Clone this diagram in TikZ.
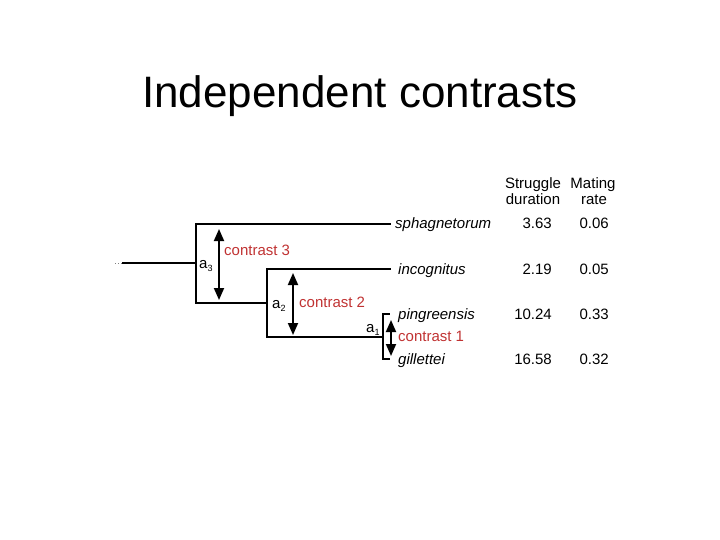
\documentclass[tikz,border=0pt]{standalone}
\usepackage{fontspec}
\setmainfont{Liberation Sans}
\usetikzlibrary{arrows.meta}
\definecolor{cred}{RGB}{192,50,50}
\newcommand{\mysub}[1]{\raisebox{-3pt}{\fontsize{9}{10}\selectfont #1}}
\begin{document}
\begin{tikzpicture}[x=1pt,y=-1pt,
  branch/.style={line width=2pt, line cap=rect},
  contrastarrow/.style={line width=1.8pt, {Triangle[width=10pt,length=12pt]}-{Triangle[width=10pt,length=12pt]}},
  species/.style={anchor=base west, inner sep=0pt, font=\fontsize{15}{18}\selectfont\itshape},
  val/.style={anchor=base east, inner sep=0pt, font=\fontsize{15}{18}\selectfont},
  hdr/.style={anchor=base, inner sep=0pt, font=\fontsize{15}{18}\selectfont},
  ctext/.style={anchor=base west, inner sep=0pt, text=cred, font=\fontsize{15}{18}\selectfont},
  alabel/.style={anchor=base west, inner sep=0pt, font=\fontsize{15}{18}\selectfont}]
\useasboundingbox (0,0) rectangle (720,540);
% title
\node[anchor=base, inner sep=0pt, font=\fontsize{44}{50}\selectfont] (title) at (360,108) {Independent contrasts};
% tree coordinates
\coordinate (rootend) at (115,263);
\coordinate (rootdash) at (123,263);
\coordinate (n3) at (196,263);
\coordinate (n3top) at (196,224);
\coordinate (n3bot) at (196,303);
\coordinate (n2mid) at (267,303);
\coordinate (n2top) at (267,269);
\coordinate (n2bot) at (267,337);
\coordinate (n1) at (383,337);
\coordinate (n1top) at (383,314);
\coordinate (n1bot) at (383,359);
\coordinate (tipS) at (390,224);
\coordinate (tipI) at (390,269);
\coordinate (tipP) at (389,314);
\coordinate (tipG) at (389,359);
% branches
\draw[line width=1pt, dotted, gray] (rootend) -- (rootdash);
\draw[branch] (rootdash) -- (n3);
\draw[branch] (tipS) -- (n3top) -- (n3bot) -- (n2mid);
\draw[branch] (tipI) -- (n2top) -- (n2bot) -- (n1);
\draw[branch] (tipP) -- (n1top) -- (n1bot) -- (tipG);
% contrast arrows
\coordinate (c3a) at (219,229);
\coordinate (c3b) at (219,300);
\coordinate (c2a) at (293,273);
\coordinate (c2b) at (293,335);
\coordinate (c1a) at (391,320);
\coordinate (c1b) at (391,356);
\draw[contrastarrow] (c3a) -- (c3b);
\draw[contrastarrow] (c2a) -- (c2b);
\draw[contrastarrow] (c1a) -- (c1b);
% node labels
\node[alabel] (a3) at (199,268) {a\mysub{3}};
\node[alabel] (a2) at (272,308) {a\mysub{2}};
\node[alabel] (a1) at (366,332) {a\mysub{1}};
\node[ctext] (ct3) at (224,255) {contrast 3};
\node[ctext] (ct2) at (299,307) {contrast 2};
\node[ctext] (ct1) at (398,341) {contrast 1};
% species
\node[species] (sS) at (395,229) {sphagnetorum};
\node[species] (sI) at (398,274) {incognitus};
\node[species] (sP) at (398,319) {pingreensis};
\node[species] (sG) at (398,364) {gillettei};
% header
\node[hdr] (h1a) at (533,189) {Struggle};
\node[hdr] (h1b) at (533,205) {duration};
\node[hdr] (h2a) at (593,189) {Mating};
\node[hdr] (h2b) at (594,205) {rate};
% values
\node[val] (v1S) at (552,229) {3.63};
\node[val] (v2S) at (609,229) {0.06};
\node[val] (v1I) at (552,274) {2.19};
\node[val] (v2I) at (609,274) {0.05};
\node[val] (v1P) at (552,319) {10.24};
\node[val] (v2P) at (609,319) {0.33};
\node[val] (v1G) at (552,364) {16.58};
\node[val] (v2G) at (609,364) {0.32};
\end{tikzpicture}
\end{document}
